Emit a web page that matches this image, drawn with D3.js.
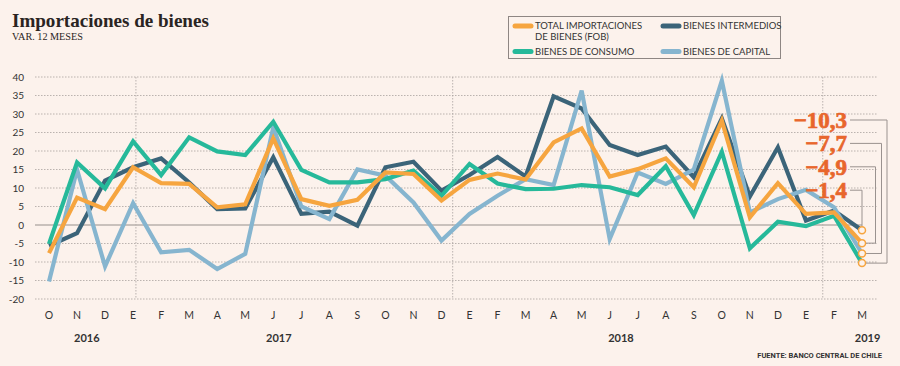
<!DOCTYPE html>
<html>
<head>
<meta charset="utf-8">
<script src="https://cdn.jsdelivr.net/npm/d3@7/dist/d3.min.js"></script>
<style>
  body { margin: 0; background: #fcf2ec; }
  svg { display: block; }
</style>
</head>
<body>
<script>
// Importaciones de bienes - var. 12 meses

// Data
const months = ['O','N','D','E','F','M','A','M','J','J','A','S','O','N','D',
                'E','F','M','A','M','J','J','A','S','O','N','D','E','F','M'];
const totalFob = [-7.6, 7.4, 4.3, 15.6, 11.3, 11.1, 4.8, 5.6, 23.4, 7.0, 5.2, 6.8, 14.2, 13.8, 6.6,
                  12.2, 13.9, 12.3, 22.3, 26.1, 13.1, 15.1, 18.0, 10.2, 28.2, 2.1, 11.3, 3.0, 3.4, -4.9];
const consumo = [-5.1, 16.9, 9.9, 22.6, 13.5, 23.7, 19.9, 18.9, 27.9, 14.9, 11.5, 11.5, 12.4, 14.7, 7.9,
                 16.5, 11.2, 9.7, 9.8, 10.8, 10.2, 8.1, 15.9, 2.7, 19.8, -6.3, 0.9, -0.3, 2.5, -10.3];
const intermedios = [-5.6, -2.2, 12.0, 15.6, 18.0, 11.5, 4.3, 4.5, 18.3, 3.0, 3.6, -0.2, 15.6, 17.1, 9.3,
                     13.5, 18.4, 13.1, 34.8, 31.5, 21.6, 18.9, 21.2, 12.9, 28.8, 7.7, 21.0, 1.2, 3.9, -1.4];
const capital = [-15.3, 15.0, -11.2, 5.9, -7.4, -6.7, -11.9, -7.8, 26.4, 5.0, 1.6, 15.0, 13.3, 6.1, -4.2,
                 3.0, 7.9, 12.4, 10.8, 36.3, -3.8, 14.2, 11.1, 15.0, 39.0, 3.4, 7.0, 9.5, 4.8, -7.7];
const yTicks = [40, 35, 30, 25, 20, 15, 10, 5, 0, -5, -10, -15, -20];
const years = [{label: '2016', at: 1.35}, {label: '2017', at: 8.2}, {label: '2018', at: 20.4}, {label: '2019', at: 29.2}];
const dividers = [3.1, 14.4, 27.6];   // vertical dashed lines (month index)
const finalLabels = ['−10,3', '−7,7', '−4,9', '−1,4'];

// Sizes
const width = 900;
const height = 366;

const colors = {
  total: '#f6a53f',
  consumo: '#26b99a',
  intermedios: '#3b6479',
  capital: '#86b5cf',
  accent: '#e8662c',
  text: '#333333',
  grid: '#a9a2a0'
};

const svg = d3.select('body')
  .append('svg')
  .attr('width', width)
  .attr('height', height);

// Scales
const x = d3.scaleLinear().domain([0, months.length - 1]).range([49, 862]);
const y = d3.scaleLinear().domain([-20, 40]).range([299, 77]);

// Title
function fitText(sel, target) {
  const w = sel.node().getComputedTextLength();
  const fs = parseFloat(sel.attr('font-size'));
  sel.attr('font-size', fs * target / w);
}
const title = svg.append('text')
  .attr('x', 12).attr('y', 27)
  .attr('font-family', 'Liberation Serif, serif')
  .attr('font-weight', 'bold')
  .attr('font-size', 22)
  .attr('fill', '#2a2422')
  .text('Importaciones de bienes');
fitText(title, 197);

const sub = svg.append('text')
  .attr('x', 12).attr('y', 40)
  .attr('font-family', 'Liberation Serif, serif')
  .attr('font-size', 11)
  .attr('fill', '#2a2422')
  .text('VAR. 12 MESES');
fitText(sub, 71);

// Grid
const grid = svg.append('g');
grid.selectAll('line.h')
  .data(yTicks.filter(d => d !== 0))
  .join('line')
  .attr('x1', 35).attr('x2', 877)
  .attr('y1', d => y(d)).attr('y2', d => y(d))
  .attr('stroke', colors.grid)
  .attr('stroke-width', 0.8)
  .attr('stroke-dasharray', '1.5,1.5');

grid.selectAll('line.v')
  .data(dividers)
  .join('line')
  .attr('x1', d => x(d)).attr('x2', d => x(d))
  .attr('y1', y(40)).attr('y2', y(-20))
  .attr('stroke', colors.grid)
  .attr('stroke-width', 0.8)
  .attr('stroke-dasharray', '1.5,1.5');

grid.append('line')
  .attr('x1', 35).attr('x2', x(months.length - 1))
  .attr('y1', y(0)).attr('y2', y(0))
  .attr('stroke', '#b9b1ad')
  .attr('stroke-width', 1.5);

// Y axis labels
svg.append('g')
  .selectAll('text')
  .data(yTicks)
  .join('text')
  .attr('x', 24)
  .attr('y', d => y(d))
  .attr('dy', '0.35em')
  .attr('text-anchor', 'end')
  .attr('font-family', 'Lato, sans-serif')
  .attr('font-size', 10)
  .attr('fill', colors.text)
  .text(d => d);

// X axis labels
svg.append('g')
  .selectAll('text')
  .data(months)
  .join('text')
  .attr('x', (d, i) => x(i))
  .attr('y', 319)
  .attr('text-anchor', 'middle')
  .attr('font-family', 'Lato, sans-serif')
  .attr('font-size', 10.5)
  .attr('fill', colors.text)
  .text(d => d);

svg.append('g')
  .selectAll('text')
  .data(years)
  .join('text')
  .attr('x', d => x(d.at))
  .attr('y', 342)
  .attr('text-anchor', 'middle')
  .attr('font-family', 'Lato, sans-serif')
  .attr('font-weight', 'bold')
  .attr('font-size', 11)
  .attr('fill', colors.text)
  .text(d => d.label);

svg.append('text')
  .attr('x', 882).attr('y', 358)
  .attr('text-anchor', 'end')
  .attr('font-family', 'Roboto, sans-serif')
  .attr('font-weight', 'bold')
  .attr('font-size', 7.5)
  .attr('fill', colors.text)
  .text('FUENTE: BANCO CENTRAL DE CHILE');

// Lines
const line = d3.line()
  .x((d, i) => x(i))
  .y(d => y(d));

const series = [
  {values: intermedios, color: colors.intermedios},
  {values: capital, color: colors.capital},
  {values: consumo, color: colors.consumo},
  {values: totalFob, color: colors.total}
];

svg.append('g')
  .selectAll('path')
  .data(series)
  .join('path')
  .attr('fill', 'none')
  .attr('stroke', d => d.color)
  .attr('stroke-width', 4.2)
  .attr('d', d => line(d.values));

// Final value annotations
const last = months.length - 1;
const ends = [consumo[last], capital[last], totalFob[last], intermedios[last]];
const connectorX = [887, 881.5, 875.5, x(last)];
const ann = svg.append('g');
ends.forEach((v, i) => {
  const ly = 120 + i * 23.4;
  const cy = y(v);
  const cx = connectorX[i];
  const pts = i < 3
    ? [[850, ly], [cx, ly], [cx, cy], [x(last) + 3.5, cy]]
    : [[850, ly], [cx, ly], [cx, cy - 3.5]];
  ann.append('path')
    .attr('d', d3.line()(pts))
    .attr('fill', 'none')
    .attr('stroke', '#9a928f')
    .attr('stroke-width', 1);
  ann.append('text')
    .attr('x', 847)
    .attr('y', ly)
    .attr('dy', '0.35em')
    .attr('text-anchor', 'end')
    .attr('font-family', 'Liberation Serif, serif')
    .attr('font-weight', 'bold')
    .attr('font-size', 23)
    .attr('fill', colors.accent)
    .attr('stroke', colors.accent)
    .attr('stroke-width', 0.7)
    .text(finalLabels[i]);
});
ann.selectAll('circle')
  .data(ends)
  .join('circle')
  .attr('cx', x(last))
  .attr('cy', d => y(d))
  .attr('r', 3.5)
  .attr('fill', '#fcf2ec')
  .attr('stroke', colors.total)
  .attr('stroke-width', 1.5);

// Legend
const legend = svg.append('g');
legend.append('rect')
  .attr('x', 508.5).attr('y', 16.5)
  .attr('width', 272).attr('height', 42)
  .attr('fill', 'none')
  .attr('stroke', '#8e8683')
  .attr('stroke-width', 1);

const legendItems = [
  {lines: ['TOTAL IMPORTACIONES', 'DE BIENES (FOB)'], color: colors.total, sx: 515, sy: 26},
  {lines: ['BIENES DE CONSUMO'], color: colors.consumo, sx: 515, sy: 51.5},
  {lines: ['BIENES INTERMEDIOS'], color: colors.intermedios, sx: 663, sy: 26},
  {lines: ['BIENES DE CAPITAL'], color: colors.capital, sx: 663, sy: 51.5}
];
legendItems.forEach(item => {
  legend.append('line')
    .attr('x1', item.sx).attr('x2', item.sx + 16)
    .attr('y1', item.sy).attr('y2', item.sy)
    .attr('stroke', item.color)
    .attr('stroke-width', 5)
    .attr('stroke-linecap', 'round');
  item.lines.forEach((t, j) => {
    legend.append('text')
      .attr('x', item.sx + 20)
      .attr('y', item.sy + j * 10.5)
      .attr('dy', '0.35em')
      .attr('font-family', 'Lato, sans-serif')
      .attr('font-size', 9.5)
      .attr('fill', colors.text)
      .text(t);
  });
});
</script>
</body>
</html>
